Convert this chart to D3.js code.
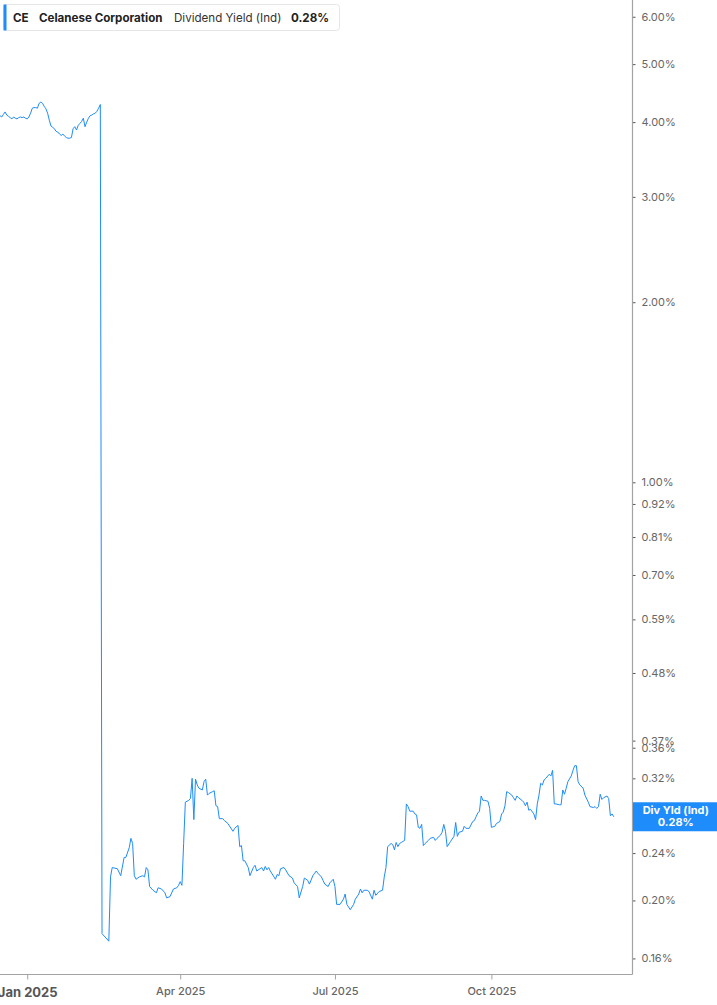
<!DOCTYPE html>
<html>
<head>
<meta charset="utf-8">
<script src="https://cdn.jsdelivr.net/npm/d3@7/dist/d3.min.js"></script>
<style>
html,body{margin:0;padding:0;background:#fff;}
svg{display:block;font-family:Inter,"Noto Sans",sans-serif;}
</style>
</head>
<body>
<svg id="chart" width="717" height="1005"></svg>
<script>
// ---- data ----
const ticker = "CE";
const company = "Celanese Corporation";
const metric = "Dividend Yield (Ind)";
const labelShort = "Div Yld (Ind)";

const dates = [
"2024-12-16","2024-12-17","2024-12-18","2024-12-19","2024-12-20","2024-12-21","2024-12-22","2024-12-23","2024-12-24","2024-12-25",
"2024-12-26","2024-12-27","2024-12-28","2024-12-29","2024-12-30","2024-12-31","2025-01-01","2025-01-02","2025-01-03","2025-01-04",
"2025-01-05","2025-01-06","2025-01-07","2025-01-08","2025-01-09","2025-01-10","2025-01-11","2025-01-12","2025-01-13","2025-01-14",
"2025-01-15","2025-01-16","2025-01-17","2025-01-18","2025-01-19","2025-01-20","2025-01-21","2025-01-22","2025-01-23","2025-01-24",
"2025-01-25","2025-01-26","2025-01-27","2025-01-28","2025-01-29","2025-01-30","2025-01-31","2025-02-01","2025-02-02","2025-02-03",
"2025-02-04","2025-02-05","2025-02-06","2025-02-07","2025-02-08","2025-02-09","2025-02-10","2025-02-11","2025-02-12","2025-02-13",
"2025-02-14","2025-02-18","2025-02-19","2025-02-20","2025-02-23","2025-02-25","2025-02-27","2025-02-28","2025-03-02","2025-03-03",
"2025-03-04","2025-03-05","2025-03-06","2025-03-08","2025-03-10","2025-03-11","2025-03-12","2025-03-13","2025-03-14","2025-03-16",
"2025-03-18","2025-03-19","2025-03-21","2025-03-23","2025-03-24","2025-03-26","2025-03-28","2025-03-30","2025-03-31","2025-04-01",
"2025-04-02","2025-04-03","2025-04-04","2025-04-06","2025-04-07","2025-04-08","2025-04-09","2025-04-10","2025-04-11","2025-04-12",
"2025-04-14","2025-04-15","2025-04-16","2025-04-17","2025-04-18","2025-04-20","2025-04-21","2025-04-22","2025-04-23","2025-04-24",
"2025-04-26","2025-04-27","2025-04-29","2025-05-02","2025-05-03","2025-05-05","2025-05-06","2025-05-07","2025-05-08","2025-05-09",
"2025-05-11","2025-05-12","2025-05-14","2025-05-15","2025-05-16","2025-05-18","2025-05-19","2025-05-20","2025-05-21","2025-05-22",
"2025-05-23","2025-05-24","2025-05-27","2025-05-28","2025-05-29","2025-05-30","2025-06-01","2025-06-02","2025-06-04","2025-06-06",
"2025-06-07","2025-06-09","2025-06-10","2025-06-12","2025-06-13","2025-06-15","2025-06-16","2025-06-18","2025-06-19","2025-06-20",
"2025-06-21","2025-06-23","2025-06-24","2025-06-25","2025-06-27","2025-06-28","2025-06-30","2025-07-01","2025-07-02","2025-07-04",
"2025-07-06","2025-07-07","2025-07-08","2025-07-10","2025-07-12","2025-07-13","2025-07-15","2025-07-16","2025-07-17","2025-07-18",
"2025-07-20","2025-07-21","2025-07-23","2025-07-24","2025-07-25","2025-07-27","2025-07-29","2025-07-30","2025-07-31","2025-08-01",
"2025-08-03","2025-08-04","2025-08-05","2025-08-06","2025-08-07","2025-08-08","2025-08-09","2025-08-11","2025-08-12","2025-08-13",
"2025-08-14","2025-08-16","2025-08-17","2025-08-18","2025-08-19","2025-08-20","2025-08-21","2025-08-22","2025-08-23","2025-08-25",
"2025-08-26","2025-08-28","2025-08-29","2025-08-30","2025-09-01","2025-09-02","2025-09-03","2025-09-04","2025-09-05","2025-09-07",
"2025-09-09","2025-09-10","2025-09-11","2025-09-12","2025-09-14","2025-09-15","2025-09-16","2025-09-18","2025-09-20","2025-09-21",
"2025-09-22","2025-09-23","2025-09-24","2025-09-25","2025-09-26","2025-09-27","2025-09-29","2025-09-30","2025-10-01","2025-10-03",
"2025-10-04","2025-10-06","2025-10-07","2025-10-08","2025-10-09","2025-10-10","2025-10-11","2025-10-13","2025-10-14","2025-10-15",
"2025-10-16","2025-10-17","2025-10-19","2025-10-20","2025-10-21","2025-10-22","2025-10-23","2025-10-24","2025-10-26","2025-10-27",
"2025-10-28","2025-10-29","2025-10-30","2025-10-31","2025-11-01","2025-11-02","2025-11-04","2025-11-05","2025-11-06","2025-11-07",
"2025-11-08","2025-11-10","2025-11-11","2025-11-12","2025-11-13","2025-11-14","2025-11-15","2025-11-17","2025-11-18","2025-11-19",
"2025-11-20","2025-11-21","2025-11-22","2025-11-24","2025-11-25","2025-11-27","2025-11-28","2025-11-30","2025-12-01","2025-12-02",
"2025-12-03","2025-12-04","2025-12-05","2025-12-06","2025-12-08","2025-12-09","2025-12-10","2025-12-11","2025-12-12"
];

const yields = [
4.10,4.08,4.12,4.16,4.11,4.09,4.07,4.05,4.08,4.06,
4.05,4.07,4.08,4.07,4.08,4.06,4.05,4.08,4.14,4.22,
4.23,4.23,4.22,4.30,4.32,4.30,4.25,4.21,4.14,4.03,
3.94,3.92,3.90,3.86,3.85,3.82,3.80,3.82,3.79,3.77,
3.76,3.76,3.77,3.90,3.93,3.88,3.95,3.98,4.01,4.06,
3.93,4.00,4.06,4.10,4.11,4.13,4.14,4.17,4.22,4.28,
0.176,0.171,0.219,0.227,0.226,0.220,0.236,0.236,0.245,0.254,
0.249,0.220,0.217,0.219,0.220,0.219,0.227,0.225,0.211,0.208,
0.206,0.210,0.209,0.206,0.202,0.203,0.209,0.210,0.212,0.215,
0.212,0.249,0.292,0.294,0.296,0.320,0.273,0.319,0.312,0.308,
0.306,0.316,0.319,0.300,0.302,0.304,0.305,0.288,0.287,0.274,
0.274,0.272,0.269,0.261,0.264,0.267,0.246,0.247,0.233,0.233,
0.227,0.220,0.227,0.229,0.224,0.226,0.227,0.224,0.228,0.225,
0.227,0.224,0.217,0.221,0.220,0.226,0.227,0.225,0.220,0.218,
0.214,0.211,0.202,0.211,0.218,0.216,0.213,0.220,0.222,0.224,
0.222,0.219,0.216,0.213,0.211,0.214,0.217,0.211,0.197,0.197,
0.201,0.205,0.197,0.193,0.197,0.201,0.205,0.209,0.206,0.208,
0.208,0.207,0.201,0.208,0.204,0.207,0.208,0.219,0.227,0.246,
0.249,0.248,0.243,0.250,0.246,0.249,0.250,0.252,0.290,0.287,
0.282,0.282,0.279,0.278,0.265,0.264,0.268,0.247,0.249,0.252,
0.254,0.255,0.252,0.254,0.257,0.260,0.268,0.261,0.246,0.251,
0.256,0.270,0.256,0.260,0.261,0.266,0.264,0.264,0.271,0.272,
0.276,0.280,0.282,0.299,0.294,0.294,0.293,0.285,0.265,0.266,
0.269,0.271,0.279,0.281,0.288,0.304,0.303,0.300,0.297,0.294,
0.299,0.297,0.294,0.292,0.288,0.292,0.283,0.284,0.279,0.273,
0.290,0.300,0.314,0.312,0.318,0.320,0.325,0.323,0.330,0.290,
0.290,0.289,0.289,0.306,0.301,0.308,0.316,0.323,0.330,0.336,
0.336,0.316,0.312,0.308,0.300,0.292,0.287,0.286,0.287,0.285,
0.287,0.301,0.295,0.297,0.299,0.296,0.277,0.279,0.276
];

const yTickValues = [6.00,5.00,4.00,3.00,2.00,1.00,0.92,0.81,0.70,0.59,0.48,0.37,0.36,0.32,0.28,0.24,0.20,0.16];
const xTickDates = ["2025-01-01","2025-04-01","2025-07-01","2025-10-01"];
const xTickLabels = ["Jan 2025","Apr 2025","Jul 2025","Oct 2025"];
const xDomain = ["2024-12-16","2025-12-23"];
const yDomain = [0.1504, 6.40];

// ---- drawing ----
const W = 717, H = 1005;
const plotRight = 632.5, plotBottom = 974.5;
const blue = "#1e8cfa";
const parse = d3.utcParse("%Y-%m-%d");
const data = dates.map((d,i)=>({date:parse(d), v:yields[i]}));

const x = d3.scaleUtc().domain(xDomain.map(parse)).range([0, plotRight]);
const y = d3.scaleLog().domain(yDomain).range([plotBottom, 0]);

const svg = d3.select("#chart");

// line
const line = d3.line().x(d=>x(d.date)).y(d=>y(d.v));
svg.append("path").datum(data)
  .attr("d", line)
  .attr("fill","none")
  .attr("stroke", blue)
  .attr("stroke-width", 1)
  .attr("stroke-linejoin","round");

// right axis
const yAxis = d3.axisRight(y).tickValues(yTickValues).tickSize(3).tickPadding(6)
  .tickFormat(d=>d.toFixed(2)+"%");
const gy = svg.append("g").attr("transform",`translate(${plotRight},0)`).call(yAxis);
gy.select(".domain").remove();
gy.selectAll(".tick line").attr("stroke","#555");
gy.selectAll(".tick text").attr("fill","#666").attr("font-size",11).attr("font-family","Inter,'Noto Sans',sans-serif");
svg.append("line").attr("x1",plotRight).attr("x2",plotRight).attr("y1",0).attr("y2",plotBottom)
  .attr("stroke","#a3a3a3").attr("stroke-width",1.2);

// bottom axis
const xAxis = d3.axisBottom(x).tickValues(xTickDates.map(parse)).tickSize(5).tickPadding(8)
  .tickFormat((d,i)=>xTickLabels[i]);
const gx = svg.append("g").attr("transform",`translate(0,${plotBottom})`).call(xAxis);
gx.select(".domain").remove();
gx.selectAll(".tick line").attr("stroke","#a3a3a3");
gx.selectAll(".tick text").attr("fill","#666").attr("font-size",11).attr("font-weight",500)
  .attr("font-family","Inter,'Noto Sans',sans-serif");
gx.selectAll(".tick text").filter((d,i)=>i===0).attr("font-size",13).attr("font-weight",700).attr("fill","#555");
svg.append("line").attr("x1",0).attr("x2",plotRight).attr("y1",plotBottom).attr("y2",plotBottom)
  .attr("stroke","#a3a3a3").attr("stroke-width",1.2);

// current value label
const last = data[data.length-1];
const ly = y(last.v);
const lab = svg.append("g");
lab.append("rect").attr("x",plotRight+0.5).attr("y",ly-14.5).attr("width",W-plotRight).attr("height",29).attr("fill",blue);
lab.append("text").attr("x",(plotRight+W)/2+1).attr("y",ly-3).attr("text-anchor","middle")
  .attr("fill","#fff").attr("font-size",11).attr("font-weight",700).text(labelShort);
lab.append("text").attr("x",(plotRight+W)/2+1).attr("y",ly+9).attr("text-anchor","middle")
  .attr("fill","#fff").attr("font-size",11).attr("font-weight",700).text(last.v.toFixed(2)+"%");

// header legend
const hdr = svg.append("g");
hdr.append("rect").attr("x",3.5).attr("y",4.5).attr("width",336).attr("height",26).attr("rx",3)
  .attr("fill","#fff").attr("stroke","#e6e6e6");
hdr.append("rect").attr("x",3.5).attr("y",4.5).attr("width",3).attr("height",26).attr("fill",blue);
const tY = 22, fs = 11.6;
hdr.append("text").attr("x",13).attr("y",tY).attr("font-size",fs).attr("font-weight",700).attr("fill","#222").text(ticker);
hdr.append("text").attr("x",39).attr("y",tY).attr("font-size",fs).attr("font-weight",700).attr("fill","#222").text(company);
hdr.append("text").attr("x",174).attr("y",tY).attr("font-size",fs).attr("font-weight",400).attr("fill","#333").text(metric);
hdr.append("text").attr("x",291).attr("y",tY).attr("font-size",fs).attr("font-weight",700).attr("fill","#222").text(last.v.toFixed(2)+"%");
</script>
</body>
</html>
